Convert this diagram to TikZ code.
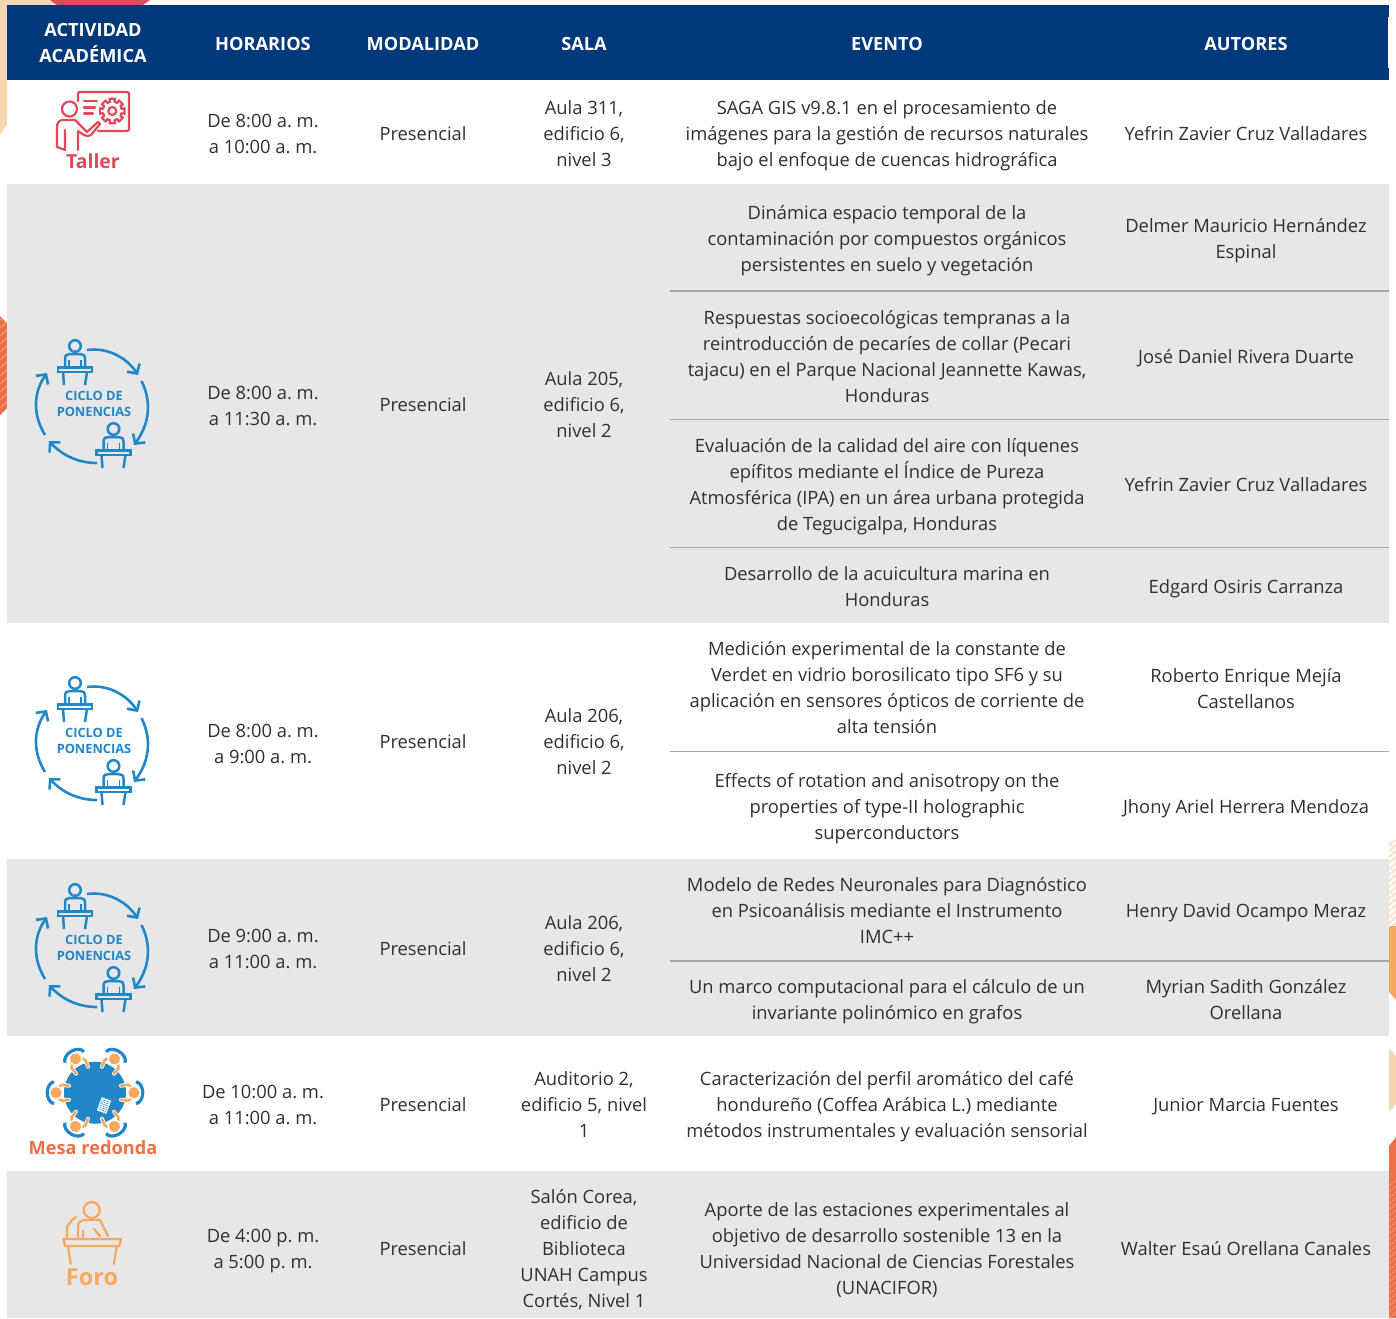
\documentclass[tikz,border=0pt]{standalone}
\usepackage{fontspec}
\setmainfont{Open Sans}
\usetikzlibrary{arrows.meta}
\definecolor{headblue}{HTML}{00397A}
\definecolor{rowgray}{HTML}{E7E7E7}
\definecolor{rulegray}{HTML}{A6A6A6}
\definecolor{bodyink}{HTML}{303030}
\definecolor{redicon}{HTML}{DF4A5A}
\definecolor{blueicon}{HTML}{2088C9}
\definecolor{peach}{HTML}{F9D6B2}
\definecolor{orangelt}{HTML}{F9A860}
\definecolor{orangedk}{HTML}{EE7046}
\tikzset{
  txt/.style={text=bodyink,align=center,inner sep=0pt,yshift=-4pt,
    font=\frenchspacing\fontsize{18.35}{26}\selectfont,
    execute at begin node=\strut,execute at end node=\strut},
  oneline/.style={yshift=2pt},
  head/.style={text=white,align=center,inner sep=0pt,yshift=-4pt,
    font=\frenchspacing\fontsize{18.2}{26}\selectfont\bfseries,
    execute at begin node=\strut,execute at end node=\strut},
  divider/.style={draw=rulegray,line width=1.3pt},
  bluearrow/.style={draw=blueicon,line width=2.6pt,-{Straight Barb[length=7pt,width=15pt,line width=2.6pt]}},
  blueline/.style={draw=blueicon,line width=2.5pt},
  redline/.style={draw=redicon,line width=2.2pt,line cap=round,line join=round},
  foroline/.style={draw=orangelt,line width=2.3pt,line cap=round,line join=round},
  ciclolabel/.style={text=blueicon,inner sep=0pt,align=center,font=\fontsize{12.8}{16}\selectfont\bfseries},
}
% panel speaker with desk; (0,0) = centre of the head
\newcommand{\speakerat}[2]{%
  \begin{scope}[shift={(#1,#2)}]
    \draw[blueline] (0,0) circle[radius=5.8];
    \draw[blueline] (-10,20) -- (-10,13) .. controls (-10,9) and (-8,8) .. (-5,8) -- (5,8) .. controls (8,8) and (10,9) .. (10,13) -- (10,20);
    \draw[blueline,line width=1.8pt] (-6,20) -- (-6,14) (6,20) -- (6,14);
    \draw[blueline,line width=2.2pt] (-17,21.5) rectangle (17,26);
    \draw[blueline] (-12,26) -- (-11,39) (12,26) -- (10,39);
  \end{scope}}
% whole "ciclo de ponencias" badge; (0,0) = centre of the ring
\newcommand{\cicloicon}[3]{%
  \begin{scope}[shift={(#1,#2)}]
    \speakerat{-18}{-58}
    \speakerat{20.5}{25}
    \draw[bluearrow] (-6,-54) .. controls (15,-57) and (34,-46) .. (45,-29);
    \draw[bluearrow] (48.5,-23) .. controls (60,0) and (55,22) .. (41,41);
    \draw[bluearrow] (4,59) .. controls (-14,59) and (-30,52) .. (-44,37);
    \draw[bluearrow] (-48,31) .. controls (-62,8) and (-58,-14) .. (-46,-31);
    \node[ciclolabel] (#3a) at (1,-8) {CICLO DE};
    \node[ciclolabel] (#3b) at (1,8) {PONENCIAS};
  \end{scope}}
\begin{document}
\begin{tikzpicture}[x=1pt,y=-1pt]
\useasboundingbox (0,0) rectangle (1396,1318);
\fill[white] (0,0) rectangle (1396,1318);
% --- decorations behind the table
\fill[peach] (0,0) -- (60,0) -- (60,5) -- (7,5) -- (7,125) -- (0,135) -- cycle;
\fill[redicon] (50,0) -- (150,0) -- (143,5) -- (57,5) -- cycle;
\fill[orangedk] (0,316) -- (7,323) -- (7,408) -- (0,415) -- cycle;
\begin{scope}
  \clip (0,316) rectangle (7,415);
  \foreach \s in {320,328,...,416} \draw[white,opacity=.35,line width=.8pt] (0,\s) -- (7,\s-6);
\end{scope}
\fill[peach!70] (1389,840) rectangle (1396,926);
\begin{scope}
  \clip (1389,838) rectangle (1396,926);
  \foreach \s in {842,848,...,932} \draw[white,line width=2.2pt] (1389,\s) -- (1396,\s-6);
\end{scope}
\fill[orangelt] (1389,926) -- (1396,926) -- (1396,1000) -- (1389,992) -- cycle;
\fill[peach] (1389,1048) -- (1396,1056) -- (1396,1104) -- (1389,1112) -- cycle;
\fill[orangedk] (1389,1146) -- (1396,1137) -- (1396,1318) -- (1389,1318) -- cycle;
\begin{scope}
  \clip (1389,1181) rectangle (1396,1318);
  \foreach \s in {1186,1192,...,1324} \draw[white,opacity=.25,line width=.8pt] (1389,\s) -- (1396,\s-6);
\end{scope}
% --- table bands
\fill[headblue] (7,5) rectangle (1389,80);
\fill[white] (1387.5,17) rectangle (1389,68);
\fill[rowgray] (7,184) rectangle (1389,623);
\fill[rowgray] (7,859) rectangle (1389,1036);
\fill[rowgray] (7,1171) rectangle (1389,1318);
\foreach \yy in {291,419.5,547.5,751.5,961} \draw[divider] (670,\yy) -- (1389,\yy);
% --- header
\node[head] (h1) at (93,43) {ACTIVIDAD\\ACADÉMICA};
\node[head,oneline] (h2) at (263,43) {HORARIOS};
\node[head,oneline] (h3) at (423,43) {MODALIDAD};
\node[head,oneline] (h4) at (584,43) {SALA};
\node[head,oneline] (h5) at (887,43) {EVENTO};
\node[head,oneline] (h6) at (1246,43) {AUTORES};
% --- row 1
\node[txt] (r1h) at (263,134) {De 8:00 a. m.\\a 10:00 a. m.};
\node[txt,oneline] (r1m) at (423,133) {Presencial};
\node[txt] (r1s) at (584,133) {Aula 311,\\edificio 6,\\nivel 3};
\node[txt] (r1e) at (887,133) {SAGA GIS v9.8.1 en el procesamiento de\\imágenes para la gestión de recursos naturales\\bajo el enfoque de cuencas hidrográfica};
\node[txt,oneline] (r1a) at (1246,133) {Yefrin Zavier Cruz Valladares};
% --- row 2
\node[txt] (r2h) at (263,406) {De 8:00 a. m.\\a 11:30 a. m.};
\node[txt,oneline] (r2m) at (423,404) {Presencial};
\node[txt] (r2s) at (584,404) {Aula 205,\\edificio 6,\\nivel 2};
\node[txt] (r2e1) at (887,238) {Dinámica espacio temporal de la\\contaminación por compuestos orgánicos\\persistentes en suelo y vegetación};
\node[txt] (r2a1) at (1246,238) {Delmer Mauricio Hernández\\Espinal};
\node[txt] (r2e2) at (887,356) {Respuestas socioecológicas tempranas a la\\reintroducción de pecaríes de collar (Pecari\\tajacu) en el Parque Nacional Jeannette Kawas,\\Honduras};
\node[txt,oneline] (r2a2) at (1246,356) {José Daniel Rivera Duarte};
\node[txt] (r2e3) at (887,484) {Evaluación de la calidad del aire con líquenes\\epífitos mediante el Índice de Pureza\\Atmosférica (IPA) en un área urbana protegida\\de Tegucigalpa, Honduras};
\node[txt,oneline] (r2a3) at (1246,484) {Yefrin Zavier Cruz Valladares};
\node[txt] (r2e4) at (887,586) {Desarrollo de la acuicultura marina en\\Honduras};
\node[txt,oneline] (r2a4) at (1246,586) {Edgard Osiris Carranza};
% --- row 3
\node[txt] (r3h) at (263,744) {De 8:00 a. m.\\a 9:00 a. m.};
\node[txt,oneline] (r3m) at (423,741) {Presencial};
\node[txt] (r3s) at (584,741) {Aula 206,\\edificio 6,\\nivel 2};
\node[txt] (r3e1) at (887,687) {Medición experimental de la constante de\\Verdet en vidrio borosilicato tipo SF6 y su\\aplicación en sensores ópticos de corriente de\\alta tensión};
\node[txt] (r3a1) at (1246,688) {Roberto Enrique Mejía\\Castellanos};
\node[txt] (r3e2) at (887,806) {Effects of rotation and anisotropy on the\\properties of type-II holographic\\superconductors};
\node[txt,oneline] (r3a2) at (1246,806) {Jhony Ariel Herrera Mendoza};
% --- row 4
\node[txt] (r4h) at (263,949) {De 9:00 a. m.\\a 11:00 a. m.};
\node[txt,oneline] (r4m) at (423,948) {Presencial};
\node[txt] (r4s) at (584,948) {Aula 206,\\edificio 6,\\nivel 2};
\node[txt] (r4e1) at (887,910) {Modelo de Redes Neuronales para Diagnóstico\\en Psicoanálisis mediante el Instrumento\\IMC++};
\node[txt,oneline] (r4a1) at (1246,910) {Henry David Ocampo Meraz};
\node[txt] (r4e2) at (887,999) {Un marco computacional para el cálculo de un\\invariante polinómico en grafos};
\node[txt] (r4a2) at (1246,999) {Myrian Sadith González\\Orellana};
% --- row 5
\node[txt] (r5h) at (263,1105) {De 10:00 a. m.\\a 11:00 a. m.};
\node[txt,oneline] (r5m) at (423,1104) {Presencial};
\node[txt] (r5s) at (584,1104) {Auditorio 2,\\edificio 5, nivel\\1};
\node[txt] (r5e) at (887,1104) {Caracterización del perfil aromático del café\\hondureño (Coffea Arábica L.) mediante\\métodos instrumentales y evaluación sensorial};
\node[txt,oneline] (r5a) at (1246,1104) {Junior Marcia Fuentes};
% --- row 6
\node[txt] (r6h) at (263,1249) {De 4:00 p. m.\\a 5:00 p. m.};
\node[txt,oneline] (r6m) at (423,1248) {Presencial};
\node[txt] (r6s) at (584,1248) {Salón Corea,\\edificio de\\Biblioteca\\UNAH Campus\\Cortés, Nivel 1};
\node[txt] (r6e) at (887,1248) {Aporte de las estaciones experimentales al\\objetivo de desarrollo sostenible 13 en la\\Universidad Nacional de Ciencias Forestales\\(UNACIFOR)};
\node[txt,oneline] (r6a) at (1246,1248) {Walter Esaú Orellana Canales};
% --- Taller icon
\draw[redline] (69.5,109) circle[radius=7.5];
\draw[redline] (78,101) -- (78,94) .. controls (78,92.5) and (79,92) .. (80,92) -- (127,92) .. controls (128.5,92) and (129,93) .. (129,94) -- (129,129) .. controls (129,130.5) and (128,131) .. (127,131) -- (98,131);
\draw[redline] (84,101) -- (97,101) (84,107.5) -- (95,107.5) (84,113.5) -- (93,113.5);
\draw[redline,shift={(112.3,111)}] (-13:12.5) \foreach \a in {0,45,...,315} { -- (\a-13:12.5) -- (\a+13:12.5) -- (\a+13:9.5) -- (\a+32:9.5)} -- cycle;
\draw[redline] (112.3,111) circle[radius=4];
\draw[redline] (57,147) -- (57,127) .. controls (57,123) and (59,120) .. (63,120) -- (75,120) -- (87,132) -- (98,122) -- (100,124) -- (91,135) .. controls (87,137) and (85,136) .. (78,131);
\draw[redline] (78,132) -- (78,150) (65,130) -- (65,150) -- (57,147);
\node[inner sep=0pt,text=redicon,font=\fontsize{19.4}{24}\selectfont\bfseries] (tallerlabel) at (93,161) {Taller};
% --- Ciclo icons
\cicloicon{93}{404}{cA}
\cicloicon{93}{741}{cB}
\cicloicon{93}{948}{cC}
% --- Mesa redonda icon
\fill[blueicon] (95,1092.7) circle[radius=31];
\foreach \ang in {0,60,...,300} {
  \begin{scope}[shift={(95,1092.7)},rotate=\ang]
    \draw[white,line width=4pt,line cap=round] (26,-7) -- (33,-8);
    \draw[white,line width=4pt,line cap=round] (26,7) -- (33,8);
    \draw[orangelt,line width=2.6pt,line cap=round] (26,-7) -- (33,-8) -- (36,-6);
    \draw[orangelt,line width=2.6pt,line cap=round] (26,7) -- (33,8) -- (36,6);
    \fill[white] (39,0) circle[radius=7];
    \fill[orangelt] (39,0) circle[radius=5.6];
    \draw[blueicon,line width=3.2pt] (41,-11) .. controls (50,-9) and (50,9) .. (41,11);
  \end{scope}}
\begin{scope}[shift={(104,1105.5)},rotate=-20]
  \fill[white] (-5,-7) rectangle (5,7);
  \foreach \n in {-5,-3,...,5} \draw[blueicon,line width=.5pt] (-4,\n) -- (4,\n);
\end{scope}
\node[inner sep=0pt,text=orangedk,font=\fontsize{18.2}{24}\selectfont\bfseries] (mesalabel) at (93,1148) {Mesa redonda};
% --- Foro icon
\draw[foroline] (91.7,1210) circle[radius=8];
\draw[foroline] (78,1237) -- (78,1226) .. controls (78,1222) and (82,1220) .. (85,1220) -- (100,1220) -- (108,1236);
\draw[foroline] (83,1238) -- (83,1231) (94,1229) -- (100,1236);
\draw[foroline] (67,1238) -- (67,1228) .. controls (67,1224) and (70,1224) .. (72,1220);
\draw[foroline] (72,1220) -- (76,1217);
\draw[foroline] (63.5,1239) -- (121,1239) -- (119.5,1246) -- (65,1246) -- cycle;
\draw[foroline] (68,1246) -- (70.7,1264) (116.7,1246) -- (114,1264);
\node[inner sep=0pt,text=orangelt,font=\fontsize{23.5}{26}\selectfont\bfseries] (forolabel) at (92,1277) {Foro};
\end{tikzpicture}
\end{document}
